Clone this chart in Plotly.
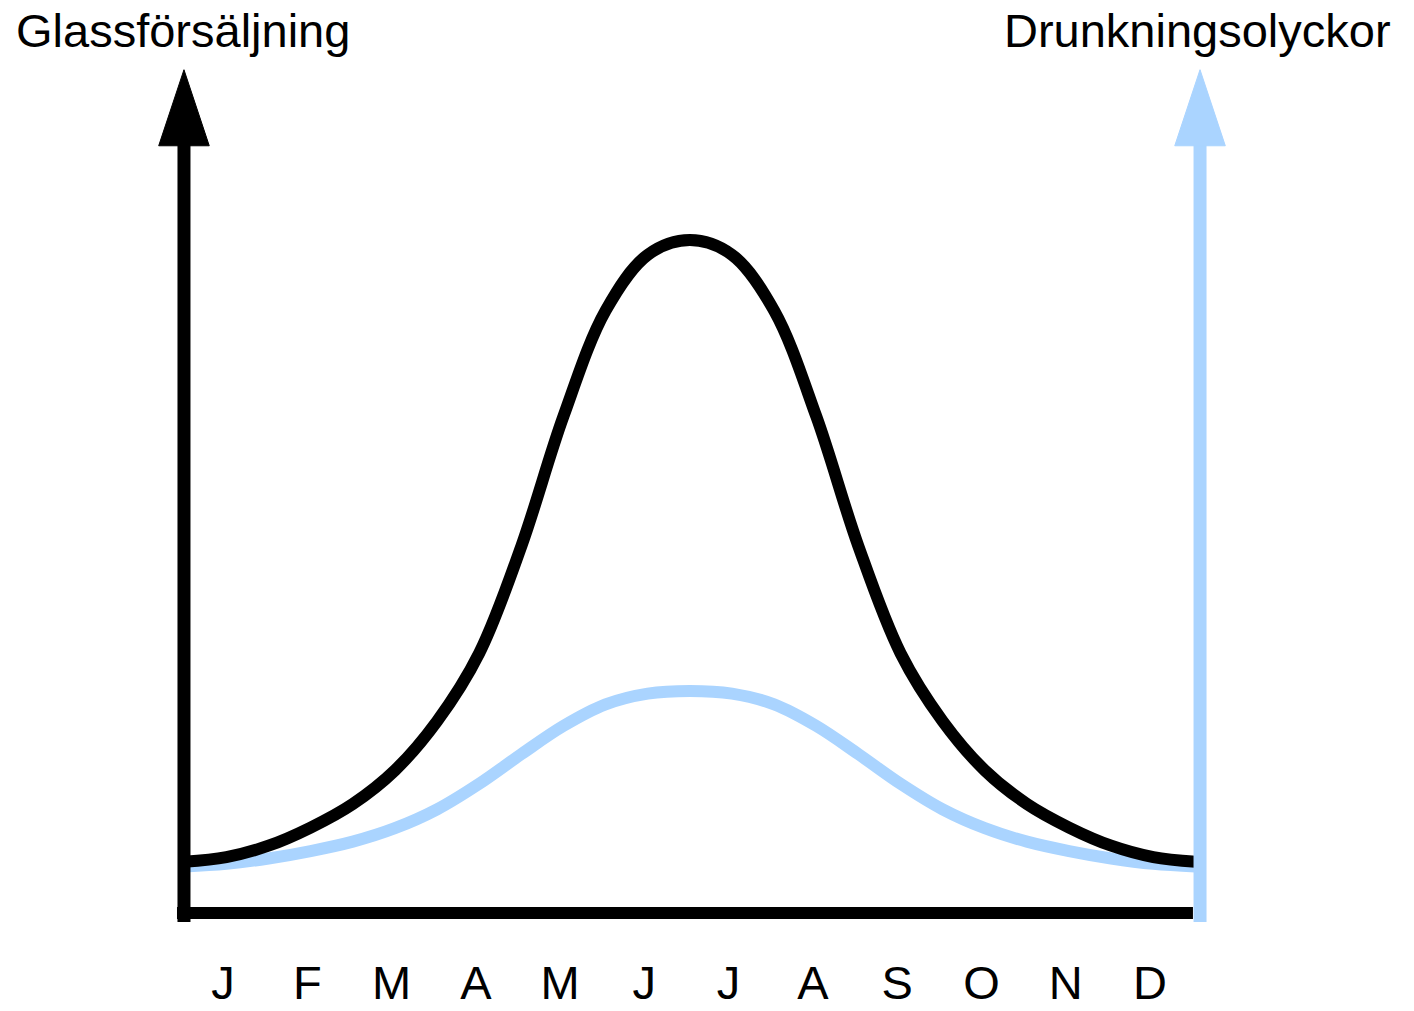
import plotly.graph_objects as go

# ---------------- data ----------------
months = ["J", "F", "M", "A", "M", "J", "J", "A", "S", "O", "N", "D"]
month_pos = list(range(12))

# sample positions along the month axis (0 = January)
curve_x = [-0.46, 0.04, 0.54, 1.04, 1.54, 2.04, 2.54, 3.04, 3.54, 4.04, 4.54, 5.04, 5.54,
           6.04, 6.54, 7.04, 7.54, 8.04, 8.54, 9.04, 9.54, 10.04, 10.54, 11.04, 11.54]

# Glassförsäljning (ice-cream sales), relative units (peak = 100)
ice_y = [7.6, 8.3, 10.0, 12.7, 16.2, 21.2, 28.5, 38.6, 54.5, 73.8, 89.5, 97.8, 100.0,
         97.8, 89.5, 73.8, 54.5, 38.6, 28.5, 21.2, 16.2, 12.7, 10.0, 8.3, 7.6]

# Drunkningsolyckor (drowning accidents), same relative units
drown_y = [6.9, 7.3, 8.1, 9.2, 10.6, 12.6, 15.4, 19.2, 23.6, 27.8, 31.0, 32.6, 33.0,
           32.6, 31.0, 27.8, 23.6, 19.2, 15.4, 12.6, 10.6, 9.2, 8.1, 7.3, 6.9]

left_title = "Glassförsäljning"
right_title = "Drunkningsolyckor"

# ---------------- layout constants ----------------
FIG_W, FIG_H = 1414, 1011
MB = 60                          # bottom margin (room for month labels)
PLOT_H = FIG_H - MB
X0_PX, MONTH_PX = 223.0, 84.27   # pixel of month 0 and pixels per month
BASE_PX, UNIT_PX = 913.0, 6.73   # pixel of y=0 and pixels per unit

x_range = [-X0_PX / MONTH_PX, (FIG_W - X0_PX) / MONTH_PX]
y_range = [(BASE_PX - PLOT_H) / UNIT_PX, BASE_PX / UNIT_PX]

BLACK = "#000000"
BLUE = "#aad4ff"
FONT = "Liberation Sans, Arial, Helvetica, sans-serif"

# axis geometry (data units)
LEFT_AX = -0.463
RIGHT_AX = 11.594
SHAFT_BOTTOM = -1.35
SHAFT_TOP = 114.0
TIP = 125.3
HEAD_HALF = 0.30
AX_W = 13

fig = go.Figure()

# curves
fig.add_trace(go.Scatter(x=curve_x, y=drown_y, mode="lines",
                         line=dict(color=BLUE, width=12, shape="spline", smoothing=1.0),
                         hoverinfo="skip", showlegend=False))
fig.add_trace(go.Scatter(x=curve_x, y=ice_y, mode="lines",
                         line=dict(color=BLACK, width=12, shape="spline", smoothing=1.0),
                         hoverinfo="skip", showlegend=False))

# bottom axis line
fig.add_trace(go.Scatter(x=[-0.546, 11.51], y=[0, 0], mode="lines",
                         line=dict(color=BLACK, width=12),
                         hoverinfo="skip", showlegend=False))

# left and right axis shafts + arrow heads
for ax_x, col in [(LEFT_AX, BLACK), (RIGHT_AX, BLUE)]:
    fig.add_trace(go.Scatter(x=[ax_x, ax_x], y=[SHAFT_BOTTOM, SHAFT_TOP + 0.5], mode="lines",
                             line=dict(color=col, width=AX_W),
                             hoverinfo="skip", showlegend=False))
    fig.add_trace(go.Scatter(x=[ax_x - HEAD_HALF, ax_x + HEAD_HALF, ax_x, ax_x - HEAD_HALF],
                             y=[SHAFT_TOP, SHAFT_TOP, TIP, SHAFT_TOP],
                             mode="lines", fill="toself", fillcolor=col,
                             line=dict(color=col, width=1),
                             hoverinfo="skip", showlegend=False))

TITLE_PY = 30.0
fig.add_annotation(text=left_title, xref="paper", yref="paper",
                   x=14 / FIG_W, y=1 - TITLE_PY / PLOT_H, xanchor="left", yanchor="middle",
                   showarrow=False, font=dict(family=FONT, size=47, color=BLACK))
fig.add_annotation(text=right_title, xref="paper", yref="paper",
                   x=1002 / FIG_W, y=1 - TITLE_PY / PLOT_H, xanchor="left", yanchor="middle",
                   showarrow=False, font=dict(family=FONT, size=47, color=BLACK))

fig.update_layout(
    width=FIG_W, height=FIG_H,
    margin=dict(l=0, r=0, t=0, b=MB, pad=0, autoexpand=False),
    paper_bgcolor="white", plot_bgcolor="white",
    xaxis=dict(range=x_range, tickvals=month_pos, ticktext=months, automargin=False,
               showgrid=False, zeroline=False, showline=False, ticks="",
               tickfont=dict(family=FONT, size=47, color=BLACK), fixedrange=True),
    yaxis=dict(range=y_range, visible=False, fixedrange=True, automargin=False),
    showlegend=False,
)

fig.write_html("out.html", config={"displayModeBar": False},
               post_script="document.body.style.margin='0';document.body.style.overflow='hidden';")
